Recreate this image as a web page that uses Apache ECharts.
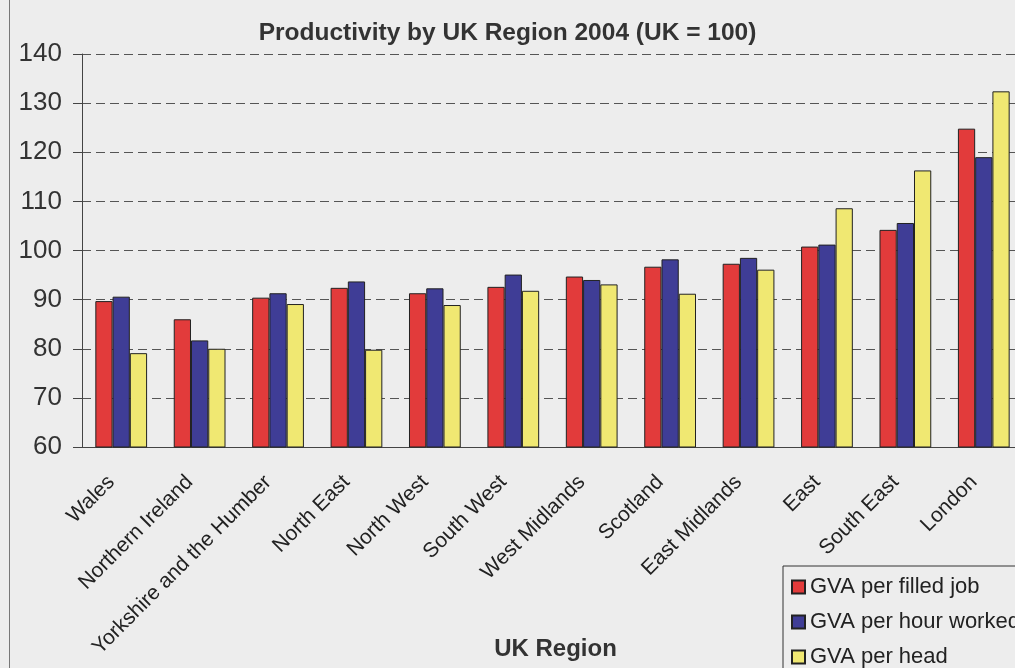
<!DOCTYPE html>
<html>
<head>
<meta charset="utf-8">
<script src="https://cdn.jsdelivr.net/npm/echarts@6/dist/echarts.min.js"></script>
<style>
  html, body { margin: 0; padding: 0; background: #ededed; }
  #chart { width: 1015px; height: 668px; }
</style>
</head>
<body>
<div id="chart"></div>
<script>
// regions, lowest to highest
const regions = ['Wales', 'Northern Ireland', 'Yorkshire and the Humber', 'North East', 'North West',
    'South West', 'West Midlands', 'Scotland', 'East Midlands', 'East', 'South East', 'London'];
const perFilledJob = [89.7, 86.0, 90.4, 92.4, 91.3, 92.6, 94.7, 96.7, 97.3, 100.8, 104.2, 124.8];
const perHourWorked = [90.6, 81.7, 91.3, 93.7, 92.3, 95.1, 94.0, 98.2, 98.5, 101.2, 105.6, 119.0];
const perHead = [79.1, 80.0, 89.1, 79.8, 88.9, 91.8, 93.1, 91.2, 96.1, 108.6, 116.3, 132.4];

const chart = echarts.init(document.getElementById('chart'));

function barSeries(name, data, color) {
    return {
        name: name,
        type: 'bar',
        data: data,
        barGap: '0%',
        barCategoryGap: '34%',
        itemStyle: { color: color, borderColor: '#222', borderWidth: 1 }
    };
}

const option = {
    backgroundColor: '#ededed',
    animation: false,
    textStyle: { fontFamily: 'Liberation Sans, Arial, sans-serif' },
    title: {
        text: 'Productivity by UK Region 2004 (UK = 100)',
        left: 'center',
        top: 16,
        textStyle: { fontSize: 24.5, fontWeight: 'bold', color: '#333' }
    },
    legend: {
        orient: 'vertical',
        left: 783,
        top: 566,
        height: 110,
        padding: [10, 60, 6, 8],
        borderColor: '#333',
        borderWidth: 1,
        itemWidth: 13,
        itemHeight: 13,
        itemGap: 13,
        icon: 'rect',
        textStyle: { fontSize: 22, color: '#222', lineHeight: 21 }
    },
    grid: { left: 82, right: -8, top: 54, bottom: 221, outerBoundsMode: 'none' },
    xAxis: {
        type: 'category',
        data: regions,
        name: 'UK Region',
        nameLocation: 'middle',
        nameGap: 190,
        nameMoveOverlap: false,
        nameTextStyle: { fontSize: 24, fontWeight: 'bold', color: '#333', padding: [0, 0, 0, 6] },
        axisLine: { lineStyle: { color: '#444' } },
        axisTick: { length: 7, lineStyle: { color: '#444' } },
        axisLabel: { rotate: 45, fontSize: 21, color: '#222', margin: 22, padding: [0, 14, 0, 0], interval: 0 }
    },
    yAxis: {
        type: 'value',
        min: 60,
        max: 140,
        interval: 10,
        axisLine: { show: true, lineStyle: { color: '#444' } },
        axisTick: { show: true, length: 9, lineStyle: { color: '#444' } },
        axisLabel: { fontSize: 26, color: '#333', margin: 20 },
        splitLine: { lineStyle: { color: '#555', type: [9, 5] } }
    },
    graphic: [{
        type: 'line',
        shape: { x1: 9.5, y1: 0, x2: 9.5, y2: 668 },
        style: { stroke: '#777', lineWidth: 1 }
    }],
    series: [
        barSeries('GVA per filled job', perFilledJob, '#e23b3b'),
        barSeries('GVA per hour worked', perHourWorked, '#3f3d96'),
        barSeries('GVA per head', perHead, '#f0e872')
    ]
};

chart.setOption(option);
</script>
</body>
</html>
